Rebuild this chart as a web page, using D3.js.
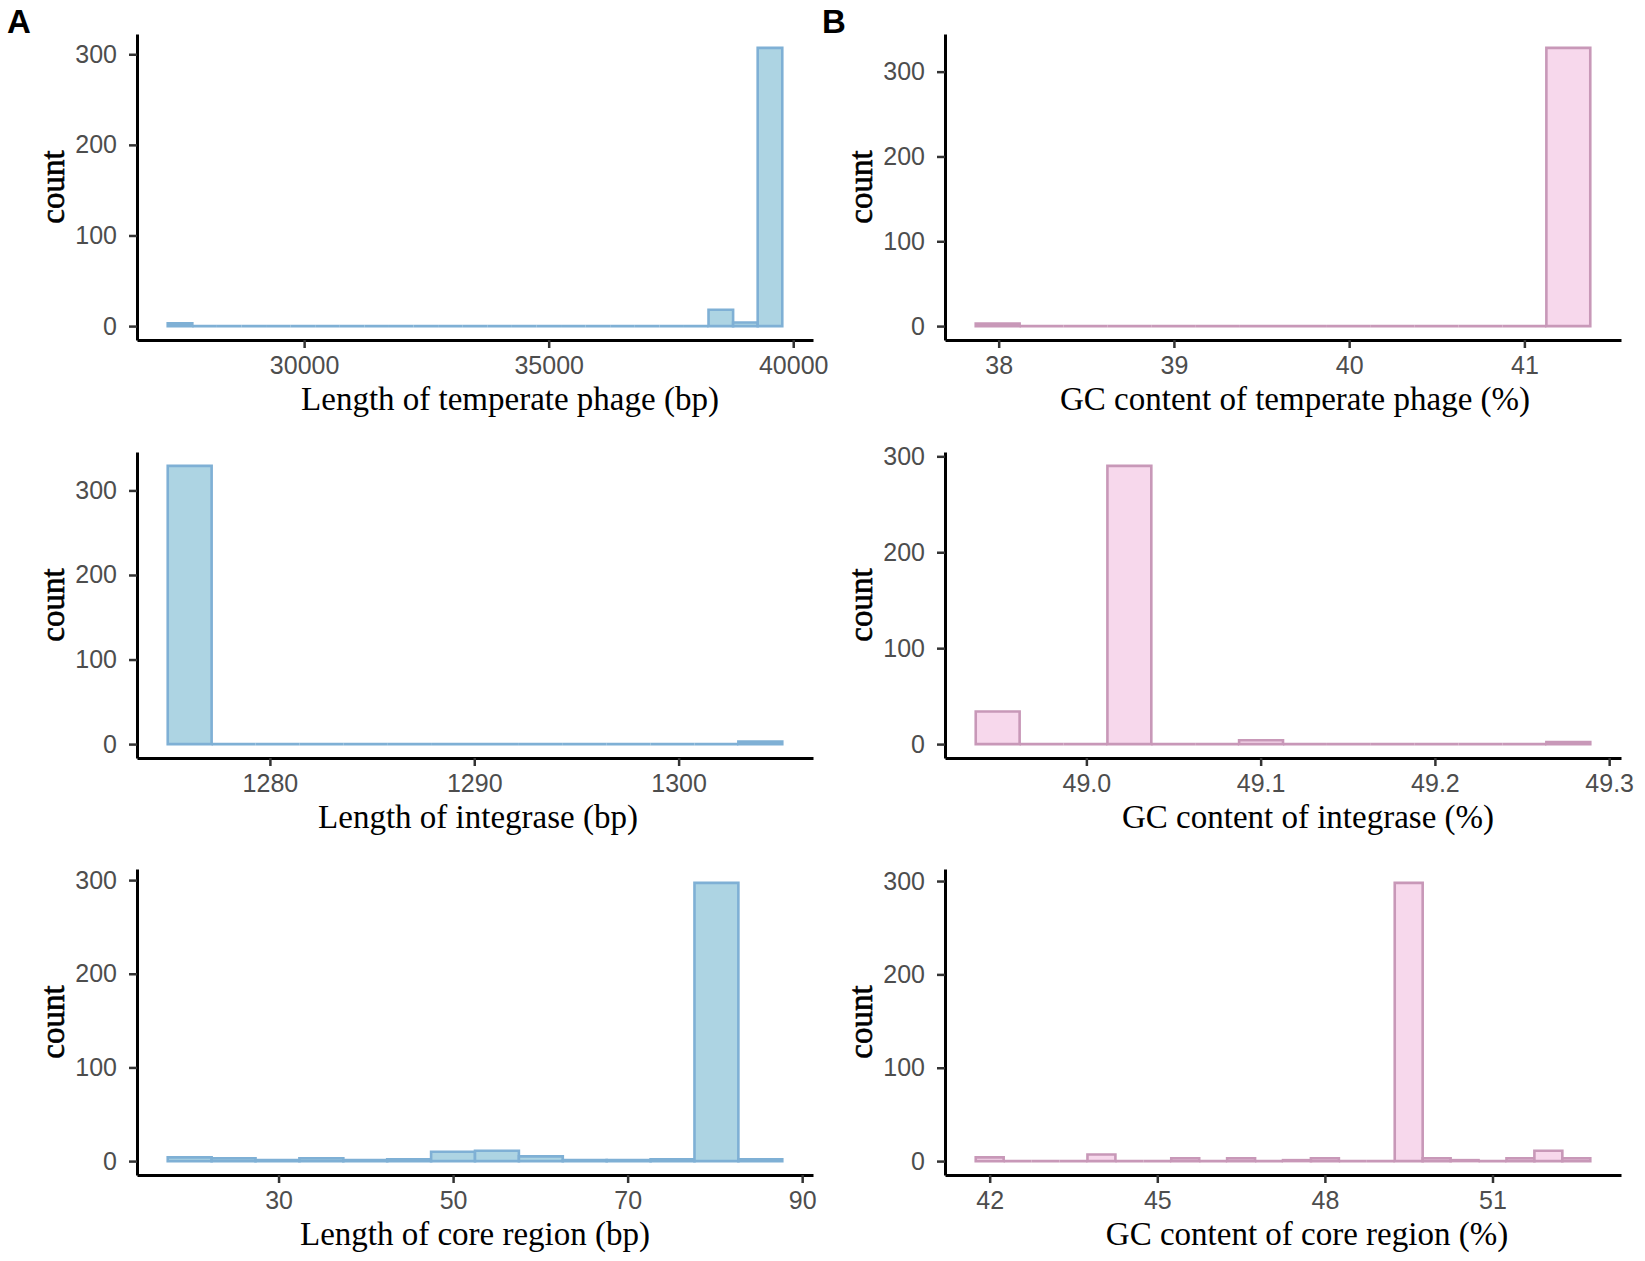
<!DOCTYPE html>
<meta charset="utf-8">
<head>
  <title>Phage histograms</title>
</head>
<style>
body { margin: 0; background: #fff; }
.tick text { font-family: "Liberation Sans", Arial, sans-serif; font-size: 25px; fill: #4d4d4d; }
.tick line { stroke: #333; stroke-width: 2.5px; }
.domain { stroke: #000; stroke-width: 3px; }
.title { font-family: "Liberation Serif", "Times New Roman", serif; font-size: 33px; fill: #000; }
.ylab { stroke: #000; stroke-width: 0.6px; }
.tag { font-family: "Liberation Sans", Arial, sans-serif; font-size: 33px; font-weight: bold; }
</style>
<body>
  <svg width="1645" height="1261"></svg>
  <script src="https://cdnjs.cloudflare.com/ajax/libs/d3/7.8.5/d3.min.js"></script>
  <script>
// counts per bin
var phageLenCounts = [3,0,0,0,0,0,0,0,0,0,0,0,0,0,0,0,0,0,0,0,0,0,18,4,307];
var phageGcCounts  = [3,0,0,0,0,0,0,0,0,0,0,0,0,328];
var intLenCounts   = [329,0,0,0,0,0,0,0,0,0,0,0,0,3];
var intGcCounts    = [34,0,0,290,0,0,4,0,0,0,0,0,0,2];
var coreLenCounts  = [4,3,1,3,1,2,10,11,5,1,1,2,297,2];
var coreGcCounts   = [4,0,0,0,7,0,0,3,0,3,0,1,3,0,0,298,3,1,0,3,11,3];

// bin start and bin width of each histogram
var phageLenBins = [27211, 502.6];
var phageGcBins  = [37.869, 0.2505];
var intLenBins   = [1275.0, 2.148];
var intGcBins    = [48.9365, 0.02519];
var coreLenBins  = [17.3, 5.03];
var coreGcBins   = [41.75, 0.5];

// tick labels
var yTicks = [0, 100, 200, 300];
var phageLenTicks = [30000, 35000, 40000];
var phageGcTicks  = [38, 39, 40, 41];
var intLenTicks   = [1280, 1290, 1300];
var intGcTicks    = [49.0, 49.1, 49.2, 49.3];
var coreLenTicks  = [30, 50, 70, 90];
var coreGcTicks   = [42, 45, 48, 51];

var blue = {fill: "#add4e3", stroke: "#7fb0d5"};
var pink = {fill: "#f7d8ec", stroke: "#c898b8"};

var panels = [
  {col: 0, row: 0, counts: phageLenCounts, bins: phageLenBins, ticks: phageLenTicks, fmt: d3.format("d"),   title: "Length of temperate phage (bp)", tshift: 35, color: blue},
  {col: 1, row: 0, counts: phageGcCounts,  bins: phageGcBins,  ticks: phageGcTicks,  fmt: d3.format("d"),   title: "GC content of temperate phage (%)", tshift: 12, color: pink},
  {col: 0, row: 1, counts: intLenCounts,   bins: intLenBins,   ticks: intLenTicks,   fmt: d3.format("d"),   title: "Length of integrase (bp)", tshift: 3, color: blue},
  {col: 1, row: 1, counts: intGcCounts,    bins: intGcBins,    ticks: intGcTicks,    fmt: d3.format(".1f"), title: "GC content of integrase (%)", tshift: 25, color: pink},
  {col: 0, row: 2, counts: coreLenCounts,  bins: coreLenBins,  ticks: coreLenTicks,  fmt: d3.format("d"),   title: "Length of core region (bp)", tshift: 0, color: blue},
  {col: 1, row: 2, counts: coreGcCounts,   bins: coreGcBins,   ticks: coreGcTicks,   fmt: d3.format("d"),   title: "GC content of core region (%)", tshift: 24, color: pink}
];

var colX = [137, 945], rowY = [34, 452, 869];
var pw = 676, ph = 306;

var svg = d3.select("svg");

panels.forEach(function(p) {
  var x0 = p.bins[0], bw = p.bins[1], n = p.counts.length;
  var x1 = x0 + bw * n;
  var xr = x1 - x0, ymax = d3.max(p.counts);
  var x = d3.scaleLinear().domain([x0 - 0.05 * xr, x1 + 0.05 * xr]).range([0, pw]);
  var y = d3.scaleLinear().domain([-0.05 * ymax, 1.05 * ymax]).range([ph, 0]);

  var g = svg.append("g").attr("transform", "translate(" + colX[p.col] + "," + rowY[p.row] + ")");

  // bars as paths so empty bins still show as a flat line
  g.selectAll("path.bar")
    .data(p.counts)
    .enter()
    .append("path")
    .attr("class", "bar")
    .attr("fill", p.color.fill)
    .attr("stroke", p.color.stroke)
    .attr("stroke-width", 2.6)
    .attr("d", function(d, i) {
      var a = x(x0 + i * bw), b = x(x0 + (i + 1) * bw);
      return "M" + a + "," + y(0) + "V" + y(d) + "H" + b + "V" + y(0) + "Z";
    });

  g.append("g").attr("transform", "translate(0," + ph + ")")
    .call(d3.axisBottom(x).tickValues(p.ticks).tickFormat(p.fmt).tickSize(8).tickPadding(8).tickSizeOuter(0));
  g.append("g")
    .call(d3.axisLeft(y).tickValues(yTicks).tickSize(8).tickPadding(12).tickSizeOuter(0));

  g.append("text").attr("class", "title")
    .attr("x", pw / 2 + p.tshift).attr("y", ph + 70)
    .attr("text-anchor", "middle")
    .text(p.title);

  g.append("text").attr("class", "title ylab")
    .attr("transform", "translate(-83," + (ph / 2) + ") rotate(-90)")
    .attr("text-anchor", "middle")
    .attr("dy", "0.3em")
    .text("count");
});

svg.append("text").attr("class", "tag").attr("x", 7).attr("y", 33).text("A");
svg.append("text").attr("class", "tag").attr("x", 822).attr("y", 33).text("B");
  </script>
</body>
</html>
